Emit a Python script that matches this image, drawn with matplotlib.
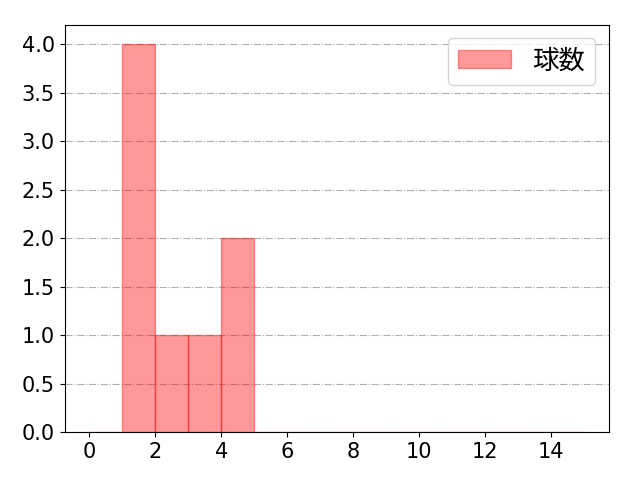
import matplotlib
matplotlib.use("Agg")
import matplotlib.pyplot as plt

plt.rcParams['font.family'] = ['DejaVu Sans', 'Noto Sans CJK JP']
plt.rcParams['font.size'] = 15

values = [1, 1, 1, 1, 2, 3, 4, 4]
bin_edges = list(range(0, 16))
label = '球数'

fig, ax = plt.subplots(figsize=(6.4, 4.8), dpi=100)
ax.hist(values, bins=bin_edges, color='red', alpha=0.4, edgecolor='red', label=label)
ax.grid(axis='y', linestyle='-.', color='#b0b0b0')
ax.set_axisbelow(True)
ax.set_xticks(range(0, 15, 2))
ax.legend(fontsize=19)
fig.subplots_adjust(left=0.101, right=0.951, bottom=0.0994, top=0.9485)
fig.savefig('out.png')
